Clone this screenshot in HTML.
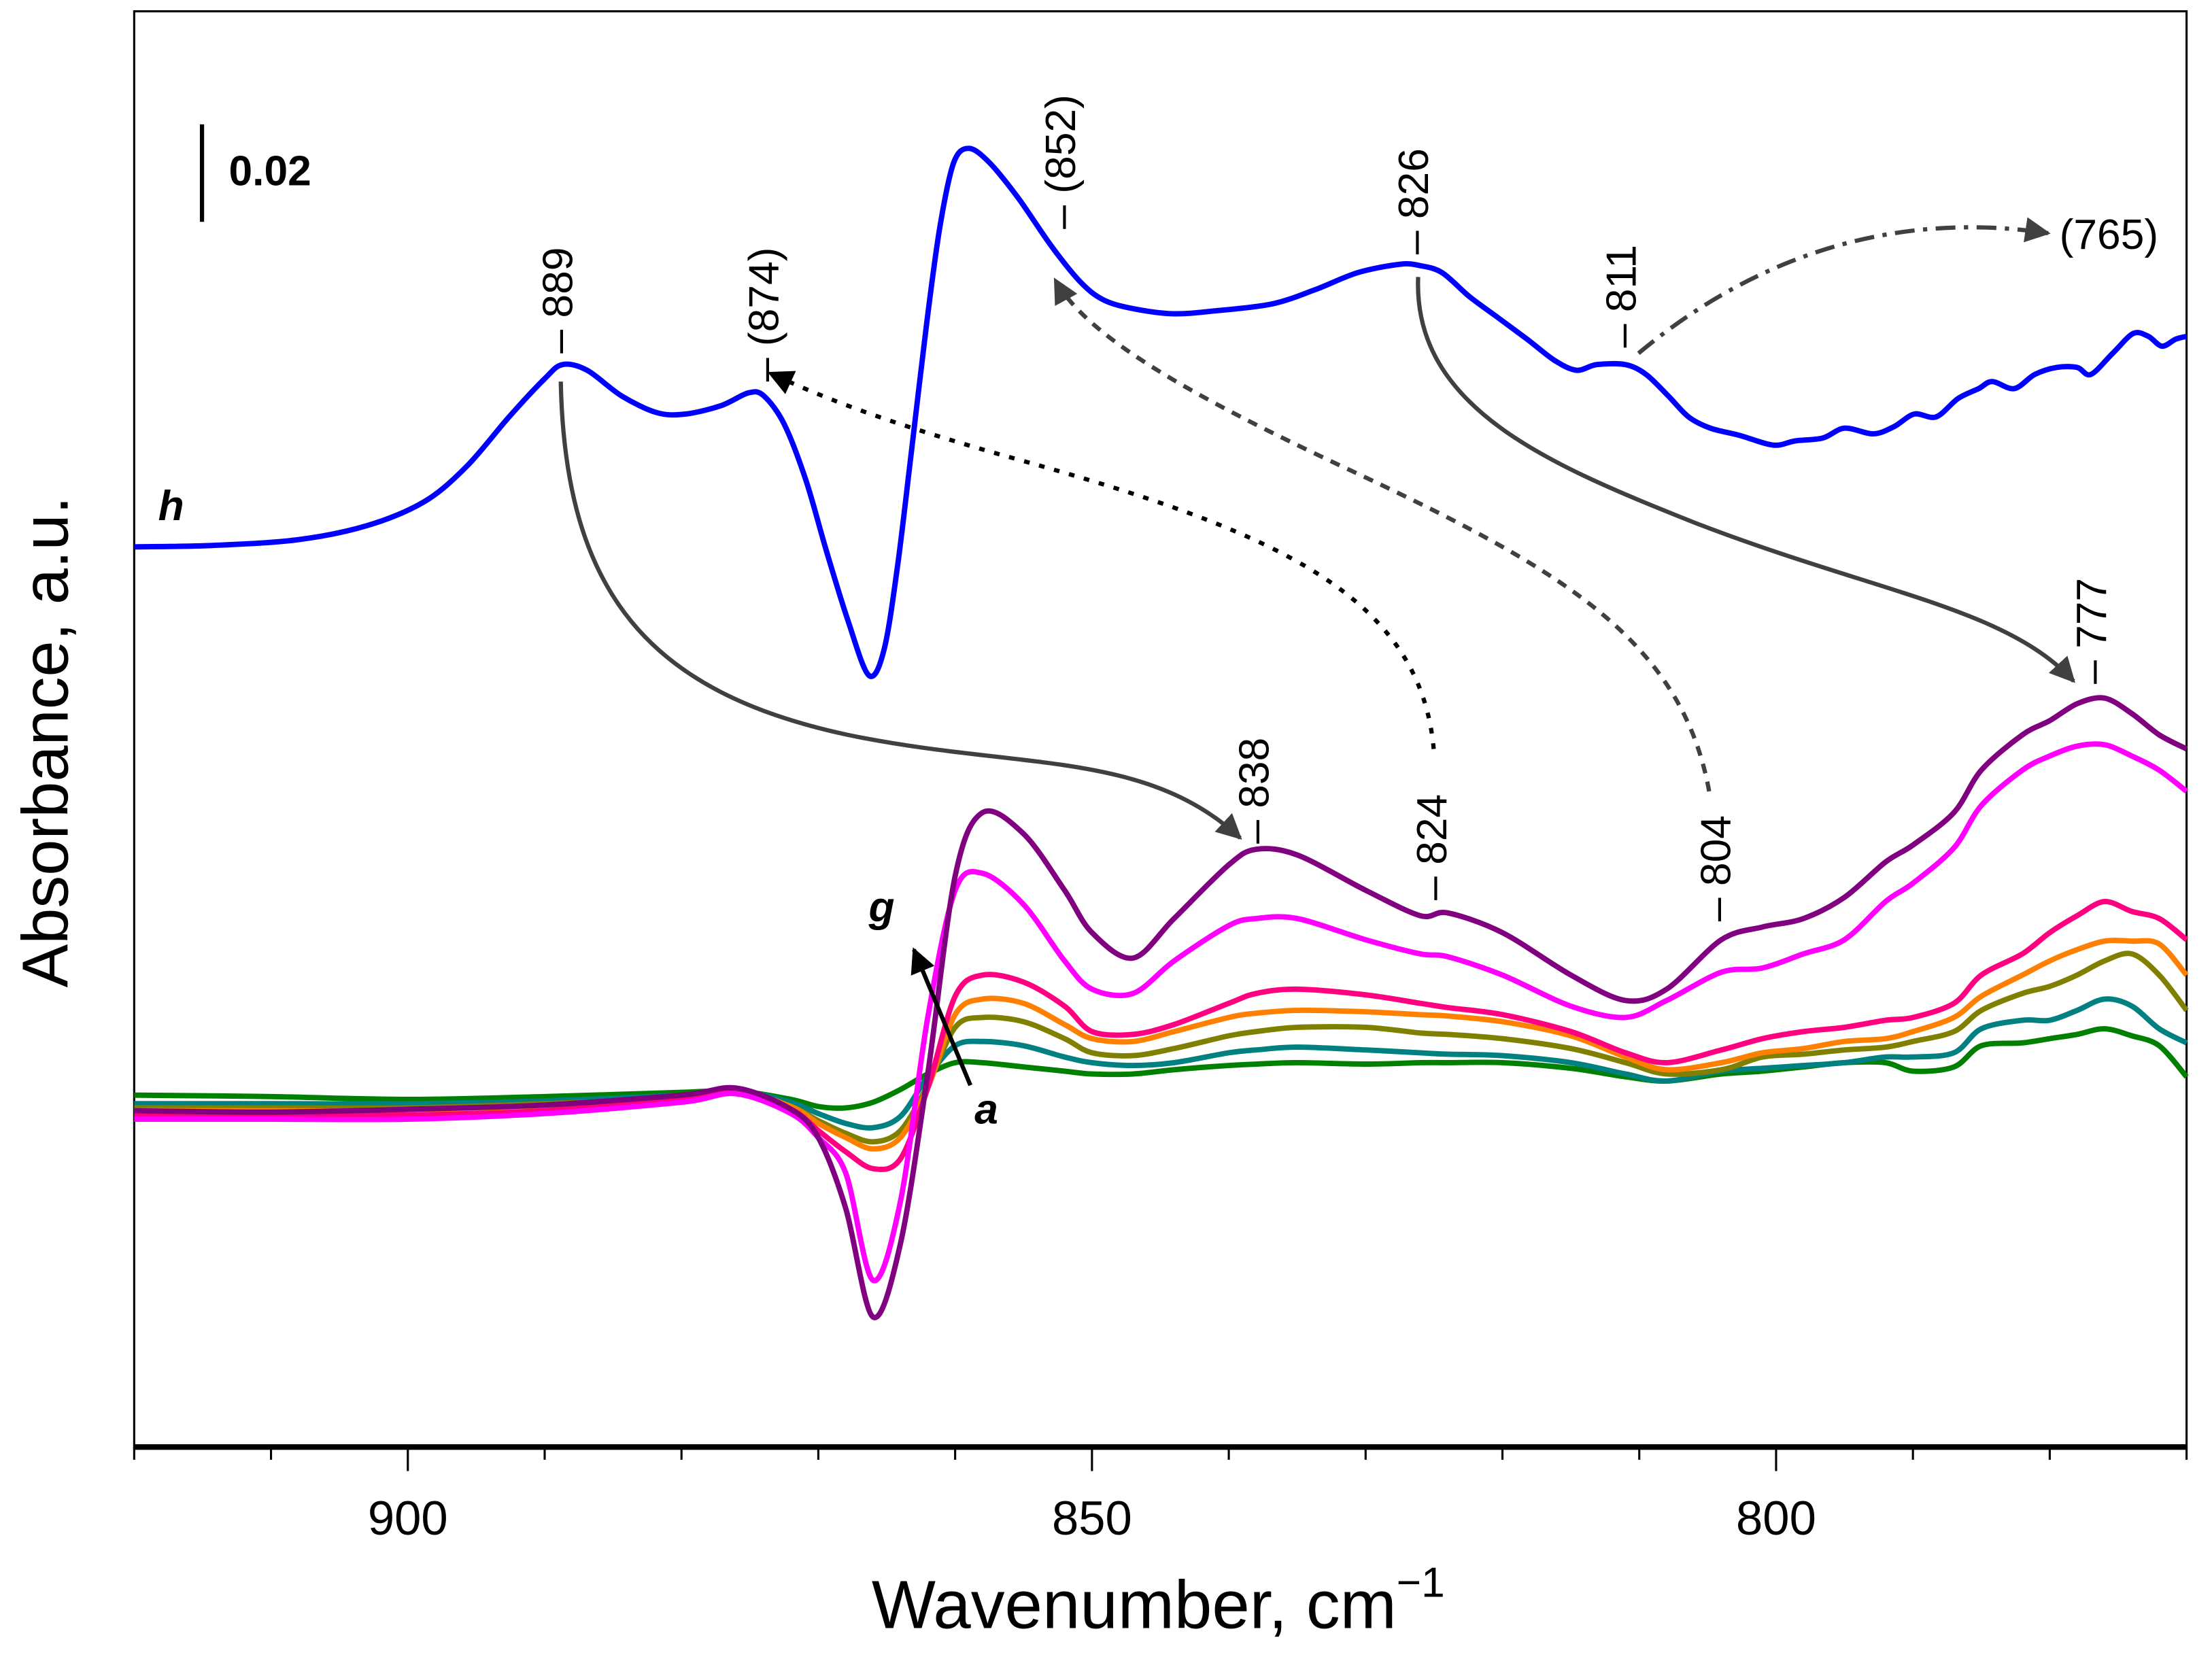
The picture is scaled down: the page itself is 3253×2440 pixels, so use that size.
<!DOCTYPE html>
<html><head><meta charset="utf-8"><style>
html,body{margin:0;padding:0;background:#fff;}
svg{display:block;}
text{font-family:"Liberation Sans",sans-serif;}
</style></head><body>
<svg id="chart" width="3253" height="2440" viewBox="0 0 1566 1174" preserveAspectRatio="none" xmlns="http://www.w3.org/2000/svg">
<defs>
<marker id="ah" viewBox="0 0 10 10" refX="9" refY="5" markerWidth="6" markerHeight="6" orient="auto"><path d="M0,0 L10,5 L0,10 z" fill="#404040"/></marker>
<marker id="ahk" viewBox="0 0 10 10" refX="9" refY="5" markerWidth="6" markerHeight="6" orient="auto"><path d="M0,0 L10,5 L0,10 z" fill="#000"/></marker>
</defs>
<rect x="95" y="8" width="1453" height="1016" fill="none" stroke="#000" stroke-width="1.5"/>
<line x1="95" y1="1024" x2="1548" y2="1024" stroke="#000" stroke-width="4"/>
<g id="xticks"></g>
<g id="series"></g>
<text x="820" y="1152" font-size="48" text-anchor="middle">Wavenumber, cm<tspan dy="-22" font-size="30">−1</tspan></text>
<text transform="translate(48,525) rotate(-90)" font-size="46" text-anchor="middle">Absorbance, a.u.</text>
<line x1="143" y1="88" x2="143" y2="157" stroke="#000" stroke-width="3"/>
<text x="162" y="131" font-size="30" font-weight="bold">0.02</text>
<text x="112" y="368" font-size="30" font-weight="bold" font-style="italic">h</text>
<text x="615" y="652" font-size="30" font-weight="bold" font-style="italic">g</text>
<text x="690" y="795" font-size="30" font-weight="bold" font-style="italic">a</text>
<line x1="687" y1="768" x2="647" y2="672" stroke="#000" stroke-width="3" marker-end="url(#ahk)"/>
<g font-size="30" fill="#000">
<text transform="translate(405,250) rotate(-90)">– 889</text>
<text transform="translate(551,270) rotate(-90)">– (874)</text>
<text transform="translate(761,162) rotate(-90)">– (852)</text>
<text transform="translate(1011,180) rotate(-90)">– 826</text>
<text transform="translate(1158,246) rotate(-90)">– 811</text>
<text transform="translate(898,597) rotate(-90)">– 838</text>
<text transform="translate(1024,637) rotate(-90)">– 824</text>
<text transform="translate(1225,652) rotate(-90)">– 804</text>
<text transform="translate(1491,484) rotate(-90)">– 777</text>
<text x="1458" y="176">(765)</text>
</g>
<g fill="none" stroke-width="3">
<path d="M397,270 C400,420 460,490 600,520 C720,545 810,530 878,593" stroke="#404040" marker-end="url(#ah)"/>
<path d="M1015,530 C1005,420 900,375 720,325 C620,297 580,280 545,264" stroke="#000" stroke-dasharray="4,7" marker-end="url(#ahk)"/>
<path d="M1210,560 C1190,450 1100,400 950,330 C850,283 770,240 747,198" stroke="#404040" stroke-dasharray="7,6" marker-end="url(#ah)"/>
<path d="M1004,196 C1000,290 1100,330 1200,370 C1330,420 1420,430 1468,482" stroke="#404040" marker-end="url(#ah)"/>
<path d="M1160,250 C1250,175 1350,150 1450,165" stroke="#404040" stroke-dasharray="14,6,3,6" marker-end="url(#ah)"/>
</g>
</svg>
<script>
const wnGrid = [920,910,900,890,880,876,872,870,868,866,864,862,860,858,855,852,850,847,844,840,838,835,830,826,824,820,815,811,808,804,801,798,795,792,790,787,785,782,780,778,776,774,772,770];
const seriesA = [25,24,22,24,27,28,22,17,16,20,29,40,48,48,45,42,40,40,43,46,47,48,47,48,48,48,44,38,35,40,42,45,48,48,42,45,60,62,65,68,72,67,60,38];
const seriesB = [19,19,19,21,25,28,20,12,5,2,10,38,60,63,60,52,48,46,48,55,57,59,57,55,54,53,48,40,35,42,44,46,48,52,52,55,72,78,78,85,93,88,72,62];
const seriesC = [16,16,16,19,23,28,17,7,-2,-8,0,32,73,80,77,65,55,53,58,67,70,73,73,69,68,65,58,48,40,43,52,54,57,59,63,70,85,97,102,110,120,125,110,85];
const seriesD = [14,14,14,17,22,28,17,5,-5,-13,-5,30,82,93,90,75,65,63,70,80,83,85,84,82,81,77,67,52,43,48,55,58,63,65,70,80,95,110,120,128,134,134,132,110];
const seriesE = [11,11,11,14,22,27,15,0,-15,-27,-20,30,95,110,105,88,70,68,75,90,97,100,96,90,87,82,70,55,48,57,65,70,73,78,80,90,110,125,140,152,162,155,150,135];
const seriesF = [8,8,8,12,20,26,12,-5,-30,-106,-50,80,170,182,160,120,100,97,120,145,150,150,135,125,123,110,88,80,92,112,115,125,135,162,175,200,230,255,265,272,273,265,255,240];
const seriesG = [14,13,15,18,25,30,15,-5,-55,-132,-80,40,180,225,210,170,140,122,150,188,199,195,170,152,154,140,110,92,100,135,144,150,165,190,202,225,255,280,290,302,306,295,280,270];
const wnH = [920,914.3,908.1,903,898.8,895.7,892.6,890,888.7,886.9,884.4,881.8,879.7,877.1,875.1,874,872.5,870.9,869.4,867.8,866.3,865.2,864.2,863.2,862.1,861.1,860.1,859,857.5,855.4,852.9,850.8,849.2,847.2,844.1,841,836.8,833.7,830.6,827.5,826,824.4,822.4,820.3,818.2,816.2,814.6,813.1,811,809.5,807.9,806.4,804.8,802.7,800.2,798.6,796.6,795,792.9,791.4,789.9,788.3,786.7,785.2,784.2,782.6,781.1,779.5,778,777,775.4,773.9,772.8,771.8,770.8,770];
const seriesH = [413,414,418,428,445,470,505,532,542,538,520,508,507,513,522,520,500,460,410,360,322,340,400,480,570,640,685,695,685,660,625,600,588,582,578,580,585,595,607,613,612,607,590,575,560,545,538,542,542,535,520,505,497,492,485,488,490,497,493,498,507,505,518,525,530,525,535,540,540,535,550,564,562,555,560,562];
const majorTicks = [900,850,800];
const minorTicks = [920,910,890,880,870,860,840,830,820,810,790,780,770];

const X0 = 95, X1 = 1548, W_LEFT = 920, W_RIGHT = 770;
function xScale(w){ return X0 + (W_LEFT - w) * (X1 - X0) / (W_LEFT - W_RIGHT); }
function yScale(v){ return 800 - v; }
const NS = "http://www.w3.org/2000/svg";

const tg = document.getElementById('xticks');
majorTicks.forEach(t=>{
  const l = document.createElementNS(NS,'line');
  
  
  l.setAttribute('x1',xScale(t)); l.setAttribute('x2',xScale(t));
  l.setAttribute('y1',1024); l.setAttribute('y2',1041);
  l.setAttribute('stroke','#000'); l.setAttribute('stroke-width','1.5');
  tg.appendChild(l);
  const tx = document.createElementNS(NS,'text');
  
  
  tx.setAttribute('x',xScale(t)); tx.setAttribute('y',1086);
  tx.setAttribute('font-size','34'); tx.setAttribute('text-anchor','middle');
  tx.textContent = t;
  tg.appendChild(tx);
});
minorTicks.forEach(t=>{
  const l = document.createElementNS(NS,'line');
  
  
  l.setAttribute('x1',xScale(t)); l.setAttribute('x2',xScale(t));
  l.setAttribute('y1',1024); l.setAttribute('y2',1033);
  l.setAttribute('stroke','#000'); l.setAttribute('stroke-width','1.5');
  tg.appendChild(l);
});

function pathFor(ws, vs){
  const p = ws.map((w,i)=>[xScale(w), yScale(vs[i])]);
  let d = 'M'+p[0][0].toFixed(1)+','+p[0][1].toFixed(1);
  for(let i=0;i<p.length-1;i++){
    const p0=p[Math.max(0,i-1)], p1=p[i], p2=p[i+1], p3=p[Math.min(p.length-1,i+2)];
    const t=0.16;
    const c1=[p1[0]+(p2[0]-p0[0])*t, p1[1]+(p2[1]-p0[1])*t];
    const c2=[p2[0]-(p3[0]-p1[0])*t, p2[1]-(p3[1]-p1[1])*t];
    d+=' C'+c1[0].toFixed(1)+','+c1[1].toFixed(1)+' '+c2[0].toFixed(1)+','+c2[1].toFixed(1)+' '+p2[0].toFixed(1)+','+p2[1].toFixed(1);
  }
  return d;
}
const sg = document.getElementById('series');
function addSeries(ws, vs, color, name){
  const el = document.createElementNS(NS,'path');
  
  
  el.setAttribute('d', pathFor(ws, vs));
  el.setAttribute('fill','none');
  el.setAttribute('stroke', color);
  el.setAttribute('stroke-width','3.8');
  el.setAttribute('stroke-linejoin','round');
  sg.appendChild(el);
}
addSeries(wnGrid, seriesA, '#008000', 'spectrum-a');
addSeries(wnGrid, seriesB, '#008080', 'spectrum-b');
addSeries(wnGrid, seriesC, '#808000', 'spectrum-c');
addSeries(wnGrid, seriesD, '#ff8000', 'spectrum-d');
addSeries(wnGrid, seriesE, '#ff0080', 'spectrum-e');
addSeries(wnGrid, seriesF, '#ff00ff', 'spectrum-f');
addSeries(wnGrid, seriesG, '#800080', 'spectrum-g');
addSeries(wnH, seriesH, '#0000ff', 'spectrum-h');
</script>
</body></html>
